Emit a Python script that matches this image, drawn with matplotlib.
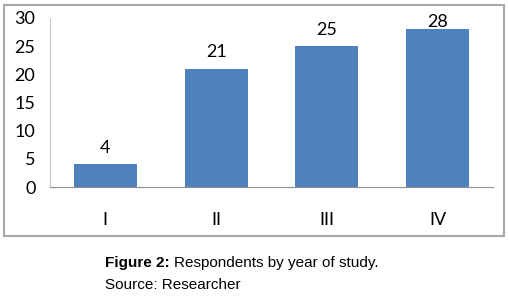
import matplotlib.pyplot as plt
from matplotlib.patches import Rectangle

years = ['I', 'II', 'III', 'IV']
respondents = [4, 21, 25, 28]
y_ticks = [0, 5, 10, 15, 20, 25, 30]

fig = plt.figure(figsize=(5.1, 3.02), dpi=100)
fig.patch.set_facecolor('white')

# grey frame round the chart area
fig.add_artist(Rectangle((4 / 510, 1 - 236 / 302), 500 / 510, 231 / 302,
                         transform=fig.transFigure, fill=False,
                         edgecolor='#a8a8a8', linewidth=1.5))

ax = fig.add_axes([50 / 510, 1 - 187 / 302, 443 / 510, 169 / 302])
x = range(len(years))
bars = ax.bar(x, respondents, width=0.57, color='#4f81bd')

# value labels, kept inside the plot area like Excel does
for xi, v in zip(x, respondents):
    ax.text(xi, min(v + 2, 28.4), str(v), ha='center', va='baseline',
            fontsize=13, family='Lato')

ax.set_xlim(-0.5, 3.5)
ax.set_ylim(0, 30)
ax.set_yticks(y_ticks)
ax.set_xticks(list(x))
ax.set_xticklabels(years)
ax.tick_params(length=0)
ax.tick_params(axis='y', pad=10.5)
ax.tick_params(axis='x', pad=18)
for lab in ax.get_xticklabels() + ax.get_yticklabels():
    lab.set_fontsize(13)
    lab.set_family('Lato')

for s in ['top', 'right']:
    ax.spines[s].set_visible(False)
ax.spines['left'].set_color('#c8c8c8')
ax.spines['bottom'].set_color('#909090')

fig.text(105 / 510, 1 - 263 / 302, 'Figure 2:', fontsize=11,
         fontweight='bold', family='Liberation Sans', va='center')
fig.text(174 / 510, 1 - 263 / 302, 'Respondents by year of study.',
         fontsize=11, family='Liberation Sans', va='center')
fig.text(105 / 510, 1 - 285 / 302, 'Source: Researcher', fontsize=11,
         family='Liberation Sans', va='center')

fig.savefig('out.png', dpi=100)
